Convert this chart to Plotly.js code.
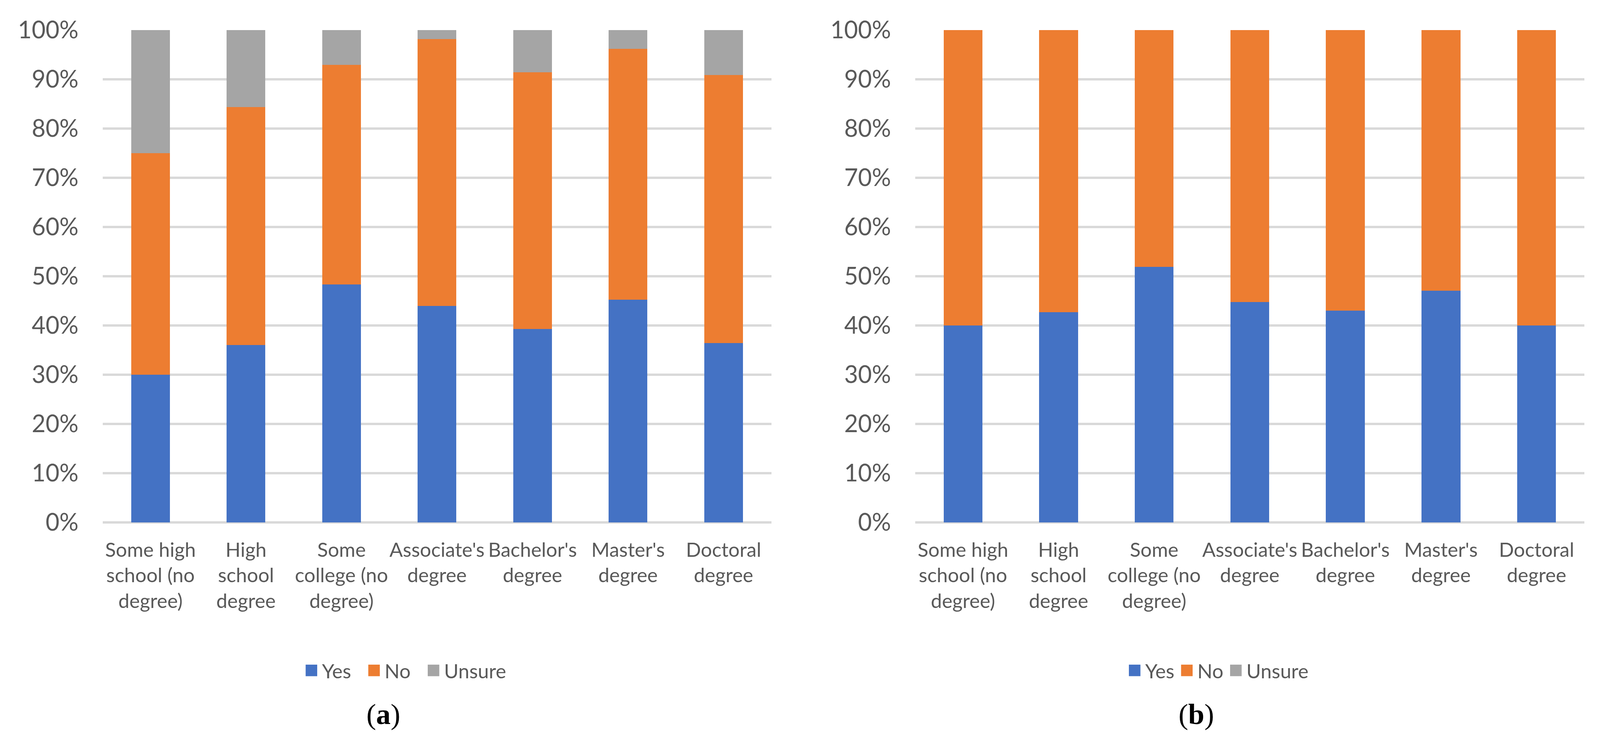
<!DOCTYPE html>
<html>
<head>
<meta charset="utf-8">
<script src="https://cdn.plot.ly/plotly-3.0.1.min.js"></script>
<style>html,body{margin:0;padding:0;background:#fff;overflow:hidden;}</style>
</head>
<body>
<div id="chart"></div>
<script>
// Categories (x-axis tick labels)
const categories = [
  "Some high<br>school (no<br>degree)",
  "High<br>school<br>degree",
  "Some<br>college (no<br>degree)",
  "Associate's<br>degree",
  "Bachelor's<br>degree",
  "Master's<br>degree",
  "Doctoral<br>degree"
];
const seriesNames = ["Yes", "No", "Unsure"];

// Panel (a) shares
const yesA    = [0.300, 0.360, 0.483, 0.440, 0.393, 0.452, 0.364];
const noA     = [0.450, 0.484, 0.446, 0.542, 0.521, 0.510, 0.545];
const unsureA = [0.250, 0.156, 0.071, 0.018, 0.086, 0.038, 0.091];

// Panel (b) shares
const yesB    = [0.400, 0.427, 0.519, 0.448, 0.430, 0.471, 0.400];
const noB     = [0.600, 0.573, 0.481, 0.552, 0.570, 0.529, 0.600];
const unsureB = [0, 0, 0, 0, 0, 0, 0];

const colors = ["#4472C4", "#ED7D31", "#A5A5A5"];
const FONT = "Lato, 'Open Sans', sans-serif";
const TXT = "#595959";

// fit the design (4292 x 1899) to the actual viewport
const W = window.innerWidth || 4292;
const H = window.innerHeight || 1899;
const k = Math.min(W / 4292, H / 1899);
const chartDiv = document.getElementById("chart");
chartDiv.style.width = W + "px";
chartDiv.style.height = H + "px";

function mk(name, y, color, xa, ya, lg) {
  return {
    type: "bar", name: name, x: categories, y: y,
    xaxis: xa, yaxis: ya, legend: lg,
    marker: {color: color, line: {width: 0}},
    hoverinfo: "skip"
  };
}

const data = [
  mk(seriesNames[0], yesA, colors[0], "x", "y", "legend"),
  mk(seriesNames[1], noA, colors[1], "x", "y", "legend"),
  mk(seriesNames[2], unsureA, colors[2], "x", "y", "legend"),
  mk(seriesNames[0], yesB, colors[0], "x2", "y2", "legend2"),
  mk(seriesNames[1], noB, colors[1], "x2", "y2", "legend2"),
  mk(seriesNames[2], unsureB, colors[2], "x2", "y2", "legend2")
];

function yax(anchor) {
  return {
    anchor: anchor, domain: [0.29595, 0.95945], range: [0, 1],
    dtick: 0.1, tick0: 0, tickformat: ".0%",
    showgrid: true, gridcolor: "#D9D9D9", gridwidth: 7 * k,
    zeroline: true, zerolinecolor: "#D9D9D9", zerolinewidth: 7 * k,
    showline: false, ticks: "",
    ticklabelstandoff: Math.round(64 * W / 4292),
    tickfont: {family: FONT, size: 64 * k, color: TXT},
    fixedrange: true
  };
}
function xax(anchor, dom) {
  return {
    anchor: anchor, domain: dom, type: "category",
    showgrid: false, zeroline: false, showline: false, ticks: "",
    tickangle: 0, ticklabelstandoff: Math.round(36 * H / 1899),
    tickfont: {family: FONT, size: 53 * k, color: TXT},
    fixedrange: true
  };
}
function leg(xc) {
  return {
    orientation: "h", x: xc, xanchor: "center", y: 0.0964, yanchor: "middle",
    traceorder: "normal", bgcolor: "rgba(0,0,0,0)",
    font: {family: FONT, size: 53 * k, color: TXT},
    itemwidth: Math.max(30, Math.round(46 * k)), itemclick: false, itemdoubleclick: false
  };
}

const capFont = {family: "'Liberation Serif', 'Times New Roman', serif", size: 78 * k, color: "#000"};

const layout = {
  width: W, height: H,
  margin: {l: 0, r: 0, t: 0, b: 0},
  paper_bgcolor: "#fff", plot_bgcolor: "#fff",
  barmode: "stack", bargap: 0.594,
  showlegend: true,
  xaxis: xax("y", [0.06421, 0.48206]),
  yaxis: yax("x"),
  xaxis2: xax("y2", [0.57200, 0.99021]),
  yaxis2: yax("x2"),
  legend: leg(0.2528),
  legend2: leg(0.7608),
  annotations: [
    {text: "(<b>a</b>)", xref: "paper", yref: "paper", x: 0.2397, y: 0.0374,
     xanchor: "center", yanchor: "middle", showarrow: false, font: capFont},
    {text: "(<b>b</b>)", xref: "paper", yref: "paper", x: 0.7477, y: 0.0374,
     xanchor: "center", yanchor: "middle", showarrow: false, font: capFont}
  ]
};

Plotly.newPlot(chartDiv, data, layout, {staticPlot: true, displayModeBar: false}).then(function(gd) {
  // enlarge legend swatches to the reference's square size
  var s = (31 * k) / 12;
  gd.querySelectorAll(".legendpoints path").forEach(function(p) {
    p.setAttribute("transform", (p.getAttribute("transform") || "") + " scale(" + s + ")");
  });
  // widen the spacing between legend entries, keeping each legend centred
  var D = 28 * k;
  gd.querySelectorAll(".legend").forEach(function(lg) {
    var sb = lg.querySelector(".scrollbox");
    if (sb) sb.removeAttribute("clip-path");
    var items = lg.querySelectorAll(".traces");
    var n = items.length;
    items.forEach(function(it, i) {
      var t = it.getAttribute("transform") || "";
      var m = /translate\(\s*([-\d.eE]+)[\s,]+([-\d.eE]+)\s*\)/.exec(t);
      if (m) {
        var x = parseFloat(m[1]) + (i - (n - 1) / 2) * D;
        it.setAttribute("transform", "translate(" + x + "," + m[2] + ")");
      }
    });
  });
});
</script>
</body>
</html>
